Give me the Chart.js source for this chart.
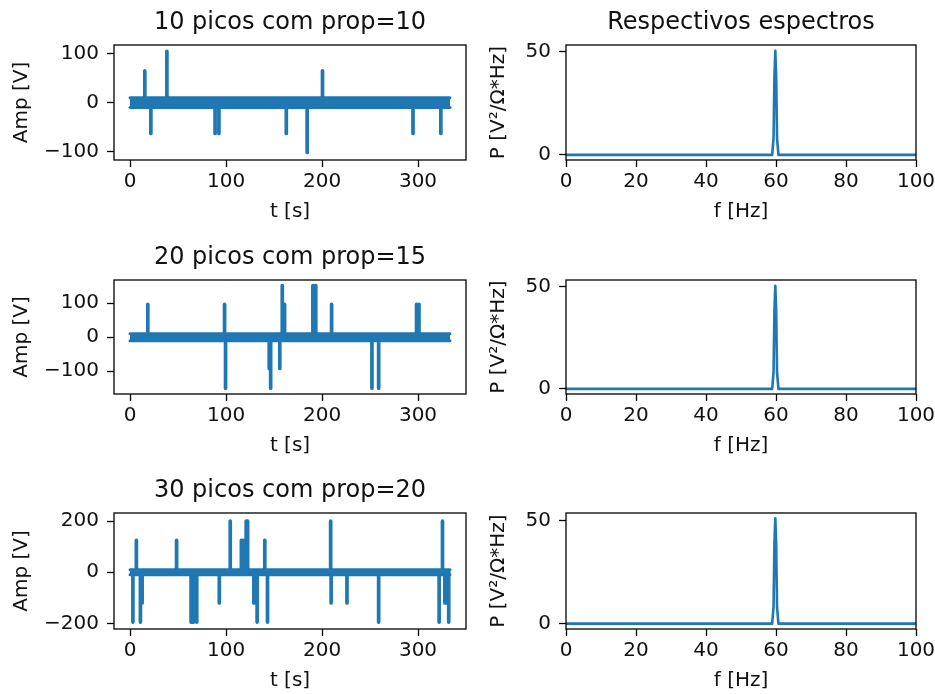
<!DOCTYPE html>
<html>
<head>
<meta charset="utf-8">
<script src="https://cdn.jsdelivr.net/npm/chart.js@4.4.1/dist/chart.umd.min.js"></script>
<style>
  html, body { margin: 0; padding: 0; background: #fff; overflow: hidden; }
  #page { position: relative; width: 935px; height: 694px; }
  canvas { position: absolute; }
</style>
</head>
<body>
<div id="page"></div>
<script>
// ---- data ----
const titlesLeft = ['10 picos com prop=10', '20 picos com prop=15', '30 picos com prop=20'];
const titlesRight = ['Respectivos espectros', '', ''];

// 60 Hz carrier drawn as its envelope (band around zero)
const bandT = [0, 333.3];
const bandUpper = [10, 10];
const bandLower = [-10, -10];

// spikes: time [s] and amplitude [V]
const spikeT1 = [15.4, 21.7, 38.4, 88.6, 92.6, 162.8, 184.5, 200.5, 294.8, 323.8];
const spikeA1 = [65, -63, 105, -63, -63, -63, -102, 65, -63, -63];

const spikeT2 = [18.5, 98.5, 99.5, 145, 146.5, 156, 158.6, 161, 190.5, 193.5, 210, 252, 259, 298.5, 301];
const spikeA2 = [97, 97, -150, -92, -150, -92, 152, 97, 152, 152, 97, -150, -150, 97, 97];

const spikeT3 = [3, 6.6, 10.8, 12.6, 48.5, 63.6, 66, 69.5, 93, 104.4, 116, 118, 121, 122.5, 129, 132.4,
  140.4, 143.2, 209, 209.5, 226, 259, 322, 325.5, 328, 329.7, 332];
const spikeA3 = [-195, 125, -195, -120, 125, -195, -195, -195, -120, 200, 125, 125, 200, 200, -120, -195,
  125, -195, 200, -120, -120, -195, -195, 200, -120, -120, -195];

// spectra
const specF = [0, 58.9, 59.3, 59.55, 59.8, 60.05, 60.3, 60.7, 100];
const specP1 = [0, 0, 8, 38, 50.3, 38, 8, 0, 0];
const specP2 = [0, 0, 8, 38, 50.3, 38, 8, 0, 0];
const specP3 = [0, 0, 8, 39, 51.2, 39, 8, 0, 0];

// ticks and ranges
const tTicks = [0, 100, 200, 300];
const tRange = [-16.7, 350];
const ampTicks = [[-100, 0, 100], [-100, 0, 100], [-200, 0, 200]];
const ampRange = [[-117.5, 118], [-167, 168.5], [-222, 232]];
const fTicks = [0, 20, 40, 60, 80, 100];
const fRange = [0, 100];
const pTicks = [0, 50];
const pRange = [[-2.5, 53.1], [-2.5, 53.1], [-2.6, 53.8]];

// ---- layout ----
const blue = '#1f77b4';
const textColor = '#111';
const fontFamily = '"DejaVu Sans", sans-serif';
const rowTop = [45, 280, 513];
const rowBottom = [160, 394, 629];
const cols = [
  { plotL: 114, plotR: 466, canvasL: 0, canvasR: 470, yTitleX: 22 },
  { plotL: 566, plotR: 916, canvasL: 470, canvasR: 935, yTitleX: 28.5 }
];

const page = document.getElementById('page');

function fmt(v) {
  return v < 0 ? '\u2212' + Math.abs(v) : String(v);
}

// spines on all four sides
const framePlugin = {
  id: 'frame',
  afterDatasetsDraw(chart) {
    const { ctx, chartArea: a } = chart;
    ctx.save();
    ctx.strokeStyle = '#000';
    ctx.lineWidth = 1.3;
    ctx.strokeRect(a.left, a.top, a.right - a.left, a.bottom - a.top);
    ctx.restore();
  }
};

// title centred over the plot area, like matplotlib
const panelTitle = {
  id: 'panelTitle',
  afterDraw(chart, args, opts) {
    if (!opts.text) return;
    const { ctx, chartArea: a } = chart;
    ctx.save();
    ctx.fillStyle = textColor;
    ctx.font = '24px ' + fontFamily;
    ctx.textAlign = 'center';
    ctx.textBaseline = 'middle';
    ctx.fillText(opts.text, (a.left + a.right) / 2, a.top - 22.5);
    ctx.restore();
  }
};

function makeChart(row, col, datasets, xr, xt, xTitle, yr, yt, yTitle, title) {
  const c = cols[col];
  const top = rowTop[row] - 45;
  const w = c.canvasR - c.canvasL;
  const h = rowBottom[row] - rowTop[row] + 45 + 70;
  const canvas = document.createElement('canvas');
  canvas.width = w;
  canvas.height = h;
  canvas.style.left = c.canvasL + 'px';
  canvas.style.top = top + 'px';
  canvas.style.width = w + 'px';
  canvas.style.height = h + 'px';
  page.appendChild(canvas);

  const tickFont = { family: fontFamily, size: 20 };
  const axisCommon = {
    type: 'linear',
    grid: { drawOnChartArea: false, drawTicks: true, tickLength: 7, tickColor: '#000', tickWidth: 1.3 },
    border: { display: false }
  };

  return new Chart(canvas, {
    type: 'line',
    data: { datasets: datasets },
    options: {
      responsive: false,
      animation: false,
      devicePixelRatio: 1,
      layout: {
        padding: { left: 0, right: c.canvasR - c.plotR, top: 45, bottom: 0 }
      },
      plugins: {
        legend: { display: false },
        tooltip: { enabled: false },
        panelTitle: { text: title }
      },
      scales: {
        x: Object.assign({}, axisCommon, {
          min: xr[0],
          max: xr[1],
          ticks: { color: textColor, font: tickFont, padding: 3, maxRotation: 0, callback: fmt },
          title: { display: true, text: xTitle, color: textColor, font: tickFont, padding: { top: 0, bottom: 6 } },
          afterBuildTicks: s => { s.ticks = xt.map(v => ({ value: v })); },
          afterFit: s => { s.height = 70; s.paddingLeft = 0; s.paddingRight = 0; }
        }),
        y: Object.assign({}, axisCommon, {
          min: yr[0],
          max: yr[1],
          ticks: { color: textColor, font: tickFont, padding: 8, callback: fmt },
          title: { display: true, text: yTitle, color: textColor, font: tickFont, padding: { top: c.yTitleX - 12, bottom: 0 } },
          afterBuildTicks: s => { s.ticks = yt.map(v => ({ value: v })); },
          afterFit: s => { s.width = c.plotL - c.canvasL; s.paddingTop = 0; s.paddingBottom = 0; }
        })
      }
    },
    plugins: [framePlugin, panelTitle]
  });
}

function signalSets(spT, spA) {
  const upper = bandT.map((t, i) => ({ x: t, y: bandUpper[i] }));
  const lower = bandT.map((t, i) => ({ x: t, y: bandLower[i] }));
  const spikes = [{ x: bandT[0], y: 0 }];
  spT.forEach((t, i) => {
    spikes.push({ x: t, y: 0 }, { x: t, y: spA[i] }, { x: t, y: 0 });
  });
  spikes.push({ x: bandT[1], y: 0 });
  const line = { pointRadius: 0, tension: 0, borderColor: blue, borderJoinStyle: 'round' };
  return [
    Object.assign({ data: upper, borderWidth: 3, fill: '+1', backgroundColor: blue, borderCapStyle: 'round' }, line),
    Object.assign({ data: lower, borderWidth: 3, fill: false, borderCapStyle: 'round' }, line),
    Object.assign({ data: spikes, borderWidth: 3.7, fill: false, borderCapStyle: 'butt' }, line)
  ];
}

function spectrumSet(p) {
  return [{
    data: specF.map((f, i) => ({ x: f, y: p[i] })),
    borderColor: blue,
    borderWidth: 2.6,
    pointRadius: 0,
    tension: 0,
    fill: false,
    borderJoinStyle: 'round'
  }];
}

const spikesT = [spikeT1, spikeT2, spikeT3];
const spikesA = [spikeA1, spikeA2, spikeA3];
const spectra = [specP1, specP2, specP3];

for (let r = 0; r < 3; r++) {
  makeChart(r, 0, signalSets(spikesT[r], spikesA[r]), tRange, tTicks, 't [s]',
    ampRange[r], ampTicks[r], 'Amp [V]', titlesLeft[r]);
  makeChart(r, 1, spectrumSet(spectra[r]), fRange, fTicks, 'f [Hz]',
    pRange[r], pTicks, 'P [V\u00b2/\u03a9*Hz]', titlesRight[r]);
}
</script>
</body>
</html>
